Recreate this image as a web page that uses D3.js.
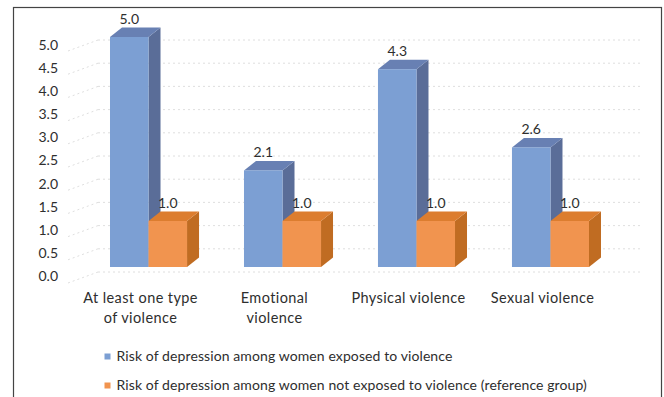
<!DOCTYPE html>
<html>
<head>
<meta charset="utf-8">
<script src="https://cdn.jsdelivr.net/npm/d3@7"></script>
<style>
  html, body { margin: 0; padding: 0; background: #fff; }
  svg { display: block; }
  text { font-family: Lato, "Open Sans", sans-serif; fill: #2e2e2e; }
</style>
</head>
<body>
<svg id="chart" width="664" height="397"></svg>
<script>
// Odds of depression by type of violence experienced
const categories = [
  ["At least one type", "of violence"],
  ["Emotional", "violence"],
  ["Physical violence"],
  ["Sexual violence"]
];
const seriesNames = [
  "Risk of depression among women exposed to violence",
  "Risk of depression among women not exposed to violence (reference group)"
];
const exposed = [5.0, 2.1, 4.3, 2.6];
const reference = [1.0, 1.0, 1.0, 1.0];
const yTicks = [0, 0.5, 1, 1.5, 2, 2.5, 3, 3.5, 4, 4.5, 5];

const svg = d3.select("#chart");

// 3D extrusion offset for the columns
const depthX = 12, depthY = -9.5;

// colour sets: front, side, top
const palettes = [
  { front: "#7c9fd3", side: "#5a6d98", top: "#6880b3" },
  { front: "#f1944f", side: "#c06c22", top: "#dc7d2f" }
];

const groupKeys = categories.map((c, i) => i);
const x = d3.scaleBand().domain(groupKeys).range([76.5, 622.5])
  .paddingInner(0.425).paddingOuter(0.25);
const xs = d3.scaleBand().domain([0, 1]).range([0, x.bandwidth()]);

const y = d3.scaleLinear().domain([0, 5]).range([267, 37]);     // front face
const yWall = d3.scaleLinear().domain([0, 5]).range([272, 40]); // back wall grid
const yLab = d3.scaleLinear().domain([0, 5]).range([276, 45]);  // axis labels

// chart frame
svg.append("rect")
  .attr("x", 13.5).attr("y", 7.5).attr("width", 648).attr("height", 400)
  .attr("fill", "none").attr("stroke", "#444").attr("stroke-width", 1.2);

// back-wall and side-wall gridlines
const grid = svg.append("g").attr("stroke", "#d6d6d6").attr("stroke-width", 0.8)
  .attr("stroke-dasharray", "2,3").attr("fill", "none");
yTicks.forEach(t => {
  const gy = yWall(t);
  grid.append("line").attr("x1", 98).attr("x2", 640).attr("y1", gy).attr("y2", gy);
  grid.append("line").attr("x1", 68).attr("x2", 98).attr("y1", gy + 11).attr("y2", gy);
});

// y axis labels
const yAxis = d3.axisLeft(yLab).tickValues(yTicks).tickSize(0).tickPadding(0)
  .tickFormat(d3.format(".1f"));
const ag = svg.append("g").attr("transform", "translate(58,0)").call(yAxis);
ag.select(".domain").remove();
ag.selectAll("text").style("font-size", "14px").style("font-family", "Lato, sans-serif")
  .attr("fill", "#333");

// columns
const rows = groupKeys.map(i => [exposed[i], reference[i]]);
const bars = svg.append("g");
rows.forEach((vals, i) => {
  vals.forEach((v, s) => {
    const x0 = x(i) + xs(s), w = xs.bandwidth();
    const yt = y(v), yb = y(0);
    const p = palettes[s];
    const g = bars.append("g");
    // side face
    g.append("path").attr("fill", p.side)
      .attr("d", `M${x0 + w},${yb}L${x0 + w + depthX},${yb + depthY}L${x0 + w + depthX},${yt + depthY}L${x0 + w},${yt}Z`);
    // top face
    g.append("path").attr("fill", p.top)
      .attr("d", `M${x0},${yt}L${x0 + depthX},${yt + depthY}L${x0 + w + depthX},${yt + depthY}L${x0 + w},${yt}Z`);
    // front face
    g.append("rect").attr("fill", p.front)
      .attr("x", x0).attr("y", yt).attr("width", w).attr("height", yb - yt);
    // value label
    g.append("text").attr("x", x0 + w / 2).attr("y", yt + depthY - 4)
      .attr("text-anchor", "middle").style("font-size", "14px")
      .text(d3.format(".1f")(v));
  });
});

// category labels
const cat = svg.append("g");
categories.forEach((lines, i) => {
  const cx = x(i) + x.bandwidth() / 2 - 8;
  const t = cat.append("text").attr("text-anchor", "middle")
    .style("font-size", "14.5px").style("letter-spacing", "0.4px");
  lines.forEach((ln, k) => {
    t.append("tspan").attr("x", cx).attr("y", 302.5 + k * 20).text(ln);
  });
});

// legend
const leg = svg.append("g");
seriesNames.forEach((name, s) => {
  const ly = 361 + s * 29;
  leg.append("rect").attr("x", 104.5).attr("y", ly - 7.5).attr("width", 6).attr("height", 6)
    .attr("fill", palettes[s].front);
  leg.append("text").attr("x", 116.5).attr("y", ly)
    .style("font-size", "14px").style("letter-spacing", "0.1px").text(name);
});
</script>
</body>
</html>
